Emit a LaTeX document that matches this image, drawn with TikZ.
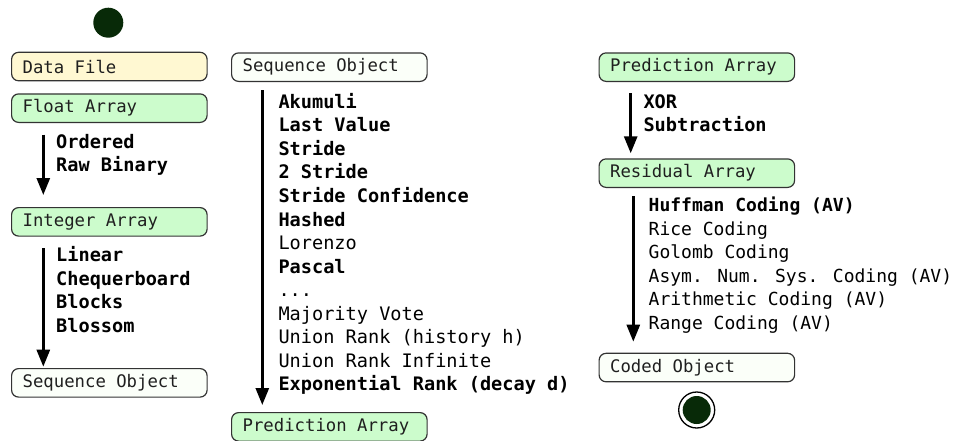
\documentclass[tikz,border=0pt]{standalone}
\usepackage{fontspec}
\newfontfamily\mono{DejaVu Sans Mono}
\usetikzlibrary{arrows.meta}
\definecolor{yellowbox}{HTML}{FFF8D2}
\definecolor{greenbox}{HTML}{CCFCCC}
\definecolor{whitebox}{HTML}{FBFFF9}
\definecolor{darkdot}{HTML}{082A08}
\definecolor{boxline}{HTML}{333333}
\newcommand{\boxtext}[1]{\makebox[173.5pt][l]{#1}}
\begin{document}
\begin{tikzpicture}[x=1pt,y=-1pt,
  objbox/.style={draw=boxline, line width=1.2pt, rounded corners=7pt, anchor=north west,
    minimum width=195.5pt, minimum height=28.5pt,
    inner xsep=11pt, inner ysep=0pt, font=\mono\fontsize{17.3}{20}\selectfont, text=black!88},
  lbl/.style={anchor=base west, inner sep=0pt, font=\mono\fontsize{18.6}{22}\selectfont, text=black},
  blbl/.style={lbl, font=\mono\bfseries\fontsize{18.6}{22}\selectfont},
  rlbl/.style={lbl, font=\mono\fontsize{18.0}{22}\selectfont},
  rblbl/.style={lbl, font=\mono\bfseries\fontsize{18.0}{22}\selectfont},
  arr/.style={-{Triangle[width=13pt,length=17pt]}, line width=2.8pt, black}]
\useasboundingbox (0,0) rectangle (954,440);

% start node
\node[circle, fill=darkdot, minimum size=30pt, inner sep=0pt] (start) at (108.3,22.7) {};

% left column
\node[objbox, fill=yellowbox] (df) at (11,51.7) {\boxtext{Data File}};
\node[objbox, fill=greenbox] (fa) at (11,93.3) {\boxtext{Float Array}};
\node[objbox, fill=greenbox] (ia) at (11,207) {\boxtext{Integer Array}};
\node[objbox, fill=whitebox] (sl) at (11,368) {\boxtext{Sequence Object}};

\draw[arr] ([xshift=32.3pt,yshift=-11.6pt]fa.south west) -- ([xshift=32.3pt,yshift=12pt]ia.north west);
\draw[arr] ([xshift=32.3pt,yshift=-11.7pt]ia.south west) -- ([xshift=32.3pt,yshift=1.3pt]sl.north west);

\node[blbl] (o1) at (56,148) {Ordered};
\node[blbl] (o2) at (56,171.5) {Raw Binary};
\foreach \t [count=\i] in {Linear,Chequerboard,Blocks,Blossom}
  \node[blbl] (p\i) at (56,{261.5+(\i-1)*23.5}) {\t};

% middle column
\node[objbox, fill=whitebox] (sm) at (231,52.3) {\boxtext{Sequence Object}};
\node[objbox, fill=greenbox] (pm) at (231,412) {\boxtext{Prediction Array}};
\draw[arr] ([xshift=31.3pt,yshift=-8pt]sm.south west) -- ([xshift=31.3pt,yshift=7pt]pm.north west);

\foreach \t/\b [count=\i] in {Akumuli/1,{Last Value}/1,Stride/1,{2 Stride}/1,{Stride Confidence}/1,Hashed/1,Lorenzo/0,Pascal/1,{...}/0,{Majority Vote}/0,{Union Rank (history h)}/0,{Union Rank Infinite}/0,{Exponential Rank (decay d)}/1}{
  \ifnum\b=1
    \node[blbl] (m\i) at (278.3,{108.3+(\i-1)*23.55}) {\t};
  \else
    \node[lbl] (m\i) at (278.3,{108.3+(\i-1)*23.55}) {\t};
  \fi
}

% right column
\node[objbox, fill=greenbox] (pr) at (598.5,52.3) {\boxtext{Prediction Array}};
\node[objbox, fill=greenbox] (ra) at (598.5,158.3) {\boxtext{Residual Array}};
\node[objbox, fill=whitebox] (co) at (598.5,352.7) {\boxtext{Coded Object}};
\draw[arr] ([xshift=32.2pt,yshift=-11pt]pr.south west) -- ([xshift=32.2pt,yshift=5pt]ra.north west);
\draw[arr] ([xshift=34.8pt,yshift=-8.3pt]ra.south west) -- ([xshift=34.8pt,yshift=11pt]co.north west);

\node[blbl] (x1) at (643.3,108) {XOR};
\node[blbl] (x2) at (643.3,131.5) {Subtraction};

\foreach \t/\b [count=\i] in {{Huffman Coding (AV)}/1,{Rice Coding}/0,{Golomb Coding}/0,{Asym. Num. Sys. Coding (AV)}/0,{Arithmetic Coding (AV)}/0,{Range Coding (AV)}/0}{
  \ifnum\b=1
    \node[rblbl] (r\i) at (648.5,{211.5+(\i-1)*23.5}) {\t};
  \else
    \node[rlbl] (r\i) at (648.5,{211.5+(\i-1)*23.5}) {\t};
  \fi
}

% end node
\node[circle, draw=black, line width=1.3pt, fill=white, minimum size=36pt, inner sep=0pt] (endring) at (696.7,410) {};
\node[circle, fill=darkdot, minimum size=28pt, inner sep=0pt] (end) at (endring) {};
\end{tikzpicture}
\end{document}
